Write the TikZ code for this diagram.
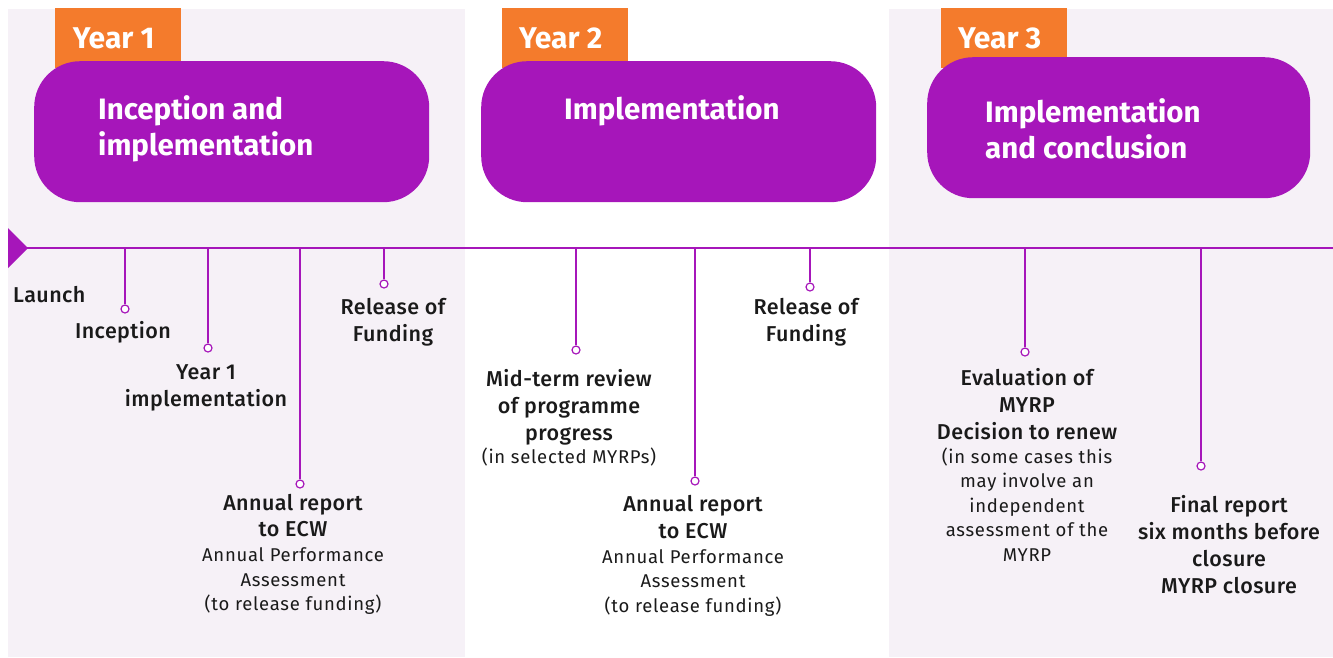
\documentclass[tikz,border=0pt]{standalone}
\usepackage{fontspec}
\setmainfont{Fira Sans}
\newfontfamily\medfont{Fira Sans Medium}[LetterSpace=2]
\newfontfamily\notefont{Fira Sans}[LetterSpace=4]
\definecolor{ecwpurple}{HTML}{A616BA}
\definecolor{ecworange}{HTML}{F47B2C}
\definecolor{ecwpanel}{HTML}{F6F1F7}
\definecolor{ecwtext}{HTML}{1A1A1A}
\newcommand{\smallnote}{\notefont\fontsize{18.5}{24.5}\selectfont}
\tikzset{
  yeartab/.style={fill=ecworange, text=white, anchor=north west, minimum width=126pt, minimum height=60pt, inner sep=0pt, font=\bfseries\fontsize{30}{34}\selectfont},
  phasebox/.style={fill=ecwpurple, rounded corners=46pt, anchor=north west, minimum height=141pt, inner sep=0pt},
  phasetext/.style={text=white, anchor=west, align=left, inner sep=0pt, font=\bfseries\fontsize{29.5}{36}\selectfont},
  milestone/.style={circle, draw=ecwpurple, fill=white, line width=1.2pt, minimum size=8pt, inner sep=0pt},
  dropline/.style={ecwpurple, line width=1.8pt},
  event/.style={anchor=north, align=center, inner sep=0pt, text=ecwtext, font=\medfont\fontsize{21.5}{27}\selectfont},
}
\begin{document}
\begin{tikzpicture}[x=1pt, y=-1pt]
  \useasboundingbox (0,0) rectangle (1333,657);
  % year panels
  \fill[ecwpanel] (8,9) rectangle (465,657);
  \fill[ecwpanel] (889,9) rectangle (1333,657);
  % year tabs
  \foreach \x [count=\n] in {55,502,941} {
    \node[yeartab] (tab\n) at (\x,8) {\hspace*{-9pt}Year \n};
  }
  % phase boxes
  \node[phasebox, minimum width=395pt] (phase1) at (34,61) {};
  \node[phasebox, minimum width=395pt] (phase2) at (481,61) {};
  \node[phasebox, minimum width=383pt] (phase3) at (927,57) {};
  \node[phasetext] (phase1text) at (98,129) {Inception and\\implementation};
  \node[phasetext] (phase2text) at (564,111) {Implementation};
  \node[phasetext] (phase3text) at (985,129) {Implementation\\and conclusion};
  % timeline
  \coordinate (start) at (8,248);
  \coordinate (end) at (1333,248);
  \draw[ecwpurple, line width=2.5pt] (start) -- (end);
  \fill[ecwpurple] (8,228) -- (28,248) -- (8,268) -- cycle;
  % milestones hanging off the timeline
  \foreach \x/\y [count=\n] in {125/309, 208/348, 300/484, 384/284, 576/350, 695/481, 810/287, 1025/352, 1201/466} {
    \coordinate (top\n) at (\x,248);
    \node[milestone] (dot\n) at (\x,\y) {};
    \draw[dropline] (top\n) -- (dot\n);
  }
  % milestone labels
  \node[event, anchor=west] (launch) at (13,295) {Launch};
  \node[event] (inception) at (123,321) {Inception};
  \node[event] (year1) at (206,364) {Year 1\\implementation};
  \node[event] (annual1) at (293,494) {Annual report\\[-0.5pt]to ECW\\[-2pt]\smallnote Annual Performance\\[-2.5pt]\smallnote Assessment\\[-2.5pt]\smallnote (to release funding)};
  \node[event] (release1) at (393,298) {Release of\\Funding};
  \node[event] (midterm) at (569,369) {Mid-term review\\of programme\\progress\\[-4pt]\smallnote (in selected MYRPs)};
  \node[event] (annual2) at (693,495) {Annual report\\to ECW\\[-2pt]\smallnote Annual Performance\\[-2.5pt]\smallnote Assessment\\[-2.5pt]\smallnote (to release funding)};
  \node[event] (release2) at (806,298) {Release of\\Funding};
  \node[event] (evaluation) at (1027,368) {Evaluation of\\MYRP\\Decision to renew\\[-3pt]\smallnote (in some cases this\\[-2.5pt]\smallnote may involve an\\[-2.5pt]\smallnote independent\\[-2.5pt]\smallnote assessment of the\\[-2.5pt]\smallnote MYRP};
  \node[event] (final) at (1229,495) {Final report\\six months before\\closure\\MYRP closure};
\end{tikzpicture}
\end{document}
